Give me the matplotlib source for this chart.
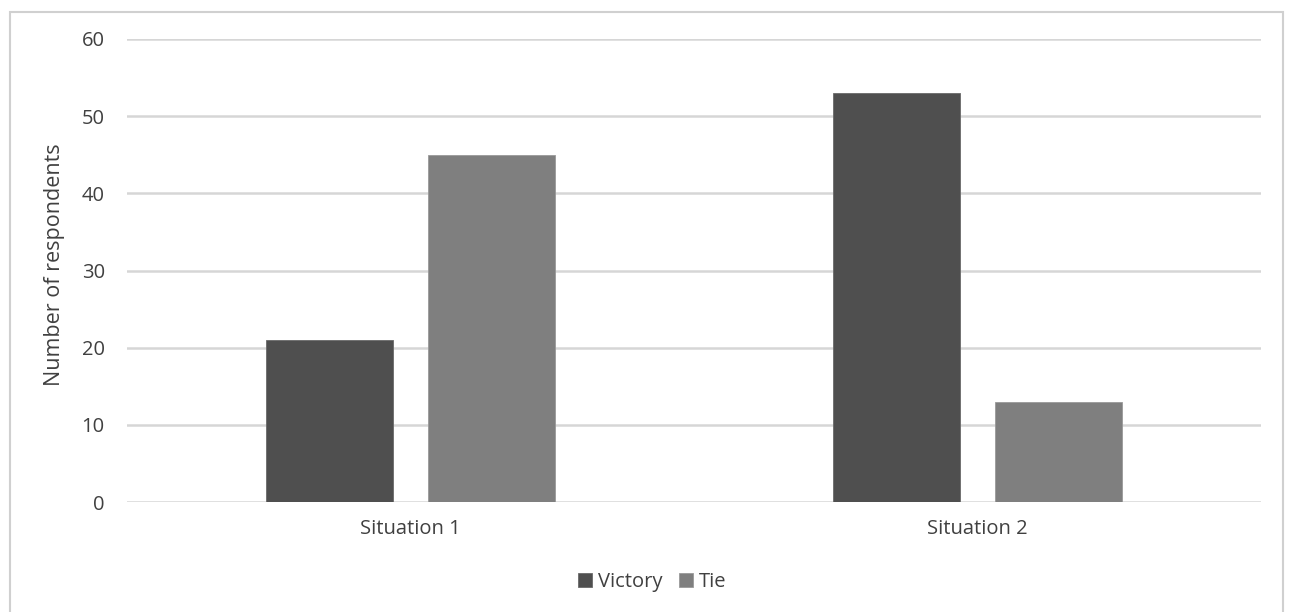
import numpy as np
import matplotlib.pyplot as plt
from matplotlib.patches import Rectangle

# chart data
categories = ['Situation 1', 'Situation 2']
victory = [21, 53]
tie = [45, 13]
yticks = [0, 10, 20, 30, 40, 50, 60]

plt.rcParams['font.family'] = ['Open Sans', 'DejaVu Sans']

fig = plt.figure(figsize=(12.9, 6.12), dpi=100)
ax = fig.add_axes([127/1290, 1 - 502/612, (1261 - 127)/1290, (502 - 39)/612])

x = np.arange(len(categories))
w = 0.223
off = 0.143
ax.bar(x - off, victory, w, color='#4f4f4f', edgecolor='#6a6a6a', linewidth=0.6,
       label='Victory', zorder=3)
ax.bar(x + off, tie, w, color='#7f7f7f', edgecolor='#999999', linewidth=0.6,
       label='Tie', zorder=3)

ax.set_xlim(-0.5, 1.5)
ax.set_ylim(0, 60)
ax.set_yticks(yticks)
ax.set_xticks(x)
ax.set_xticklabels(categories)
ax.tick_params(axis='both', length=0, labelsize=14.5, colors='#404040')
ax.tick_params(axis='y', pad=16)
ax.tick_params(axis='x', pad=12)
ax.yaxis.grid(True, color='#d6d6d6', linewidth=1.8, zorder=0)
for s in ax.spines.values():
    s.set_visible(False)
ax.set_ylabel('Number of respondents', fontsize=15.5, color='#404040', labelpad=12)
ax.yaxis.label.set_y(0.512)

leg = fig.legend(loc='center', bbox_to_anchor=(652/1290, 1 - 582/612), ncol=2, frameon=False,
                 fontsize=14.5, handlelength=0.7, handleheight=0.7, handletextpad=0.3,
                 columnspacing=0.8, labelcolor='#404040')

# outer chart border
fig.patches.append(Rectangle((10/1290, -0.02), (1283 - 10)/1290, 1.02 - 12/612,
                             transform=fig.transFigure, fill=False,
                             edgecolor='#d0d0d0', linewidth=1.5, clip_on=False))

fig.savefig('out.png', dpi=100, facecolor='white')
